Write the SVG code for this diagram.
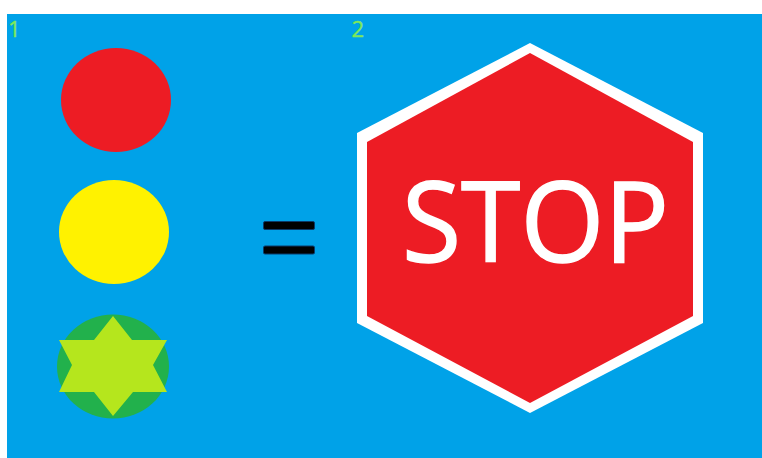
<svg xmlns="http://www.w3.org/2000/svg" width="762" height="458" viewBox="0 0 762 458">
<style>
.n{font-family:"Open Sans","Noto Sans",sans-serif;font-size:22px;fill:#7ee85a;stroke:#7ee85a;stroke-width:.4}
.b{fill:#000;stroke:#0a3a6a;stroke-width:1}
</style>
<rect width="762" height="458" fill="#fff"/>
<rect x="7" y="14" width="755" height="444" fill="#00a2e8"/>
<g id="label-1"><text class="n" x="8" y="37">1</text></g>
<g id="label-2"><text class="n" x="351.500" y="37">2</text></g>
<g id="light-red"><ellipse cx="116" cy="100" rx="55" ry="52" fill="#ed1c24"/></g>
<g id="light-yellow"><ellipse cx="114" cy="232" rx="55" ry="52" fill="#fff200"/></g>
<g id="light-green">
<ellipse cx="113" cy="366.500" rx="56" ry="52" fill="#22b14c"/>
<polygon points="113,316 94,340 59,340 72,365 59,392 94,392 113,416 133,392 167,392 153,365 167,340 132,340" fill="#b5e61d"/>
</g>
<g id="equals">
<rect class="b" x="263.500" y="221.500" width="51" height="8" rx="1.500"/>
<rect class="b" x="263.500" y="246" width="51" height="8" rx="1.500"/>
</g>
<g id="stop-sign">
<polygon points="530,43 703,133 703,323 530,413 357,323 357,133" fill="#fff"/>
<polygon points="530,53 693,142 693,316 530,403 367,316 367,142" fill="#ed1c24"/>
<text x="402" y="262" textLength="267" lengthAdjust="spacingAndGlyphs" font-family="'Open Sans','Noto Sans',sans-serif" font-size="112" fill="#fff" stroke="#fff" stroke-width="1.500">STOP</text>
</g>
<g id="connectors"/>
</svg>
